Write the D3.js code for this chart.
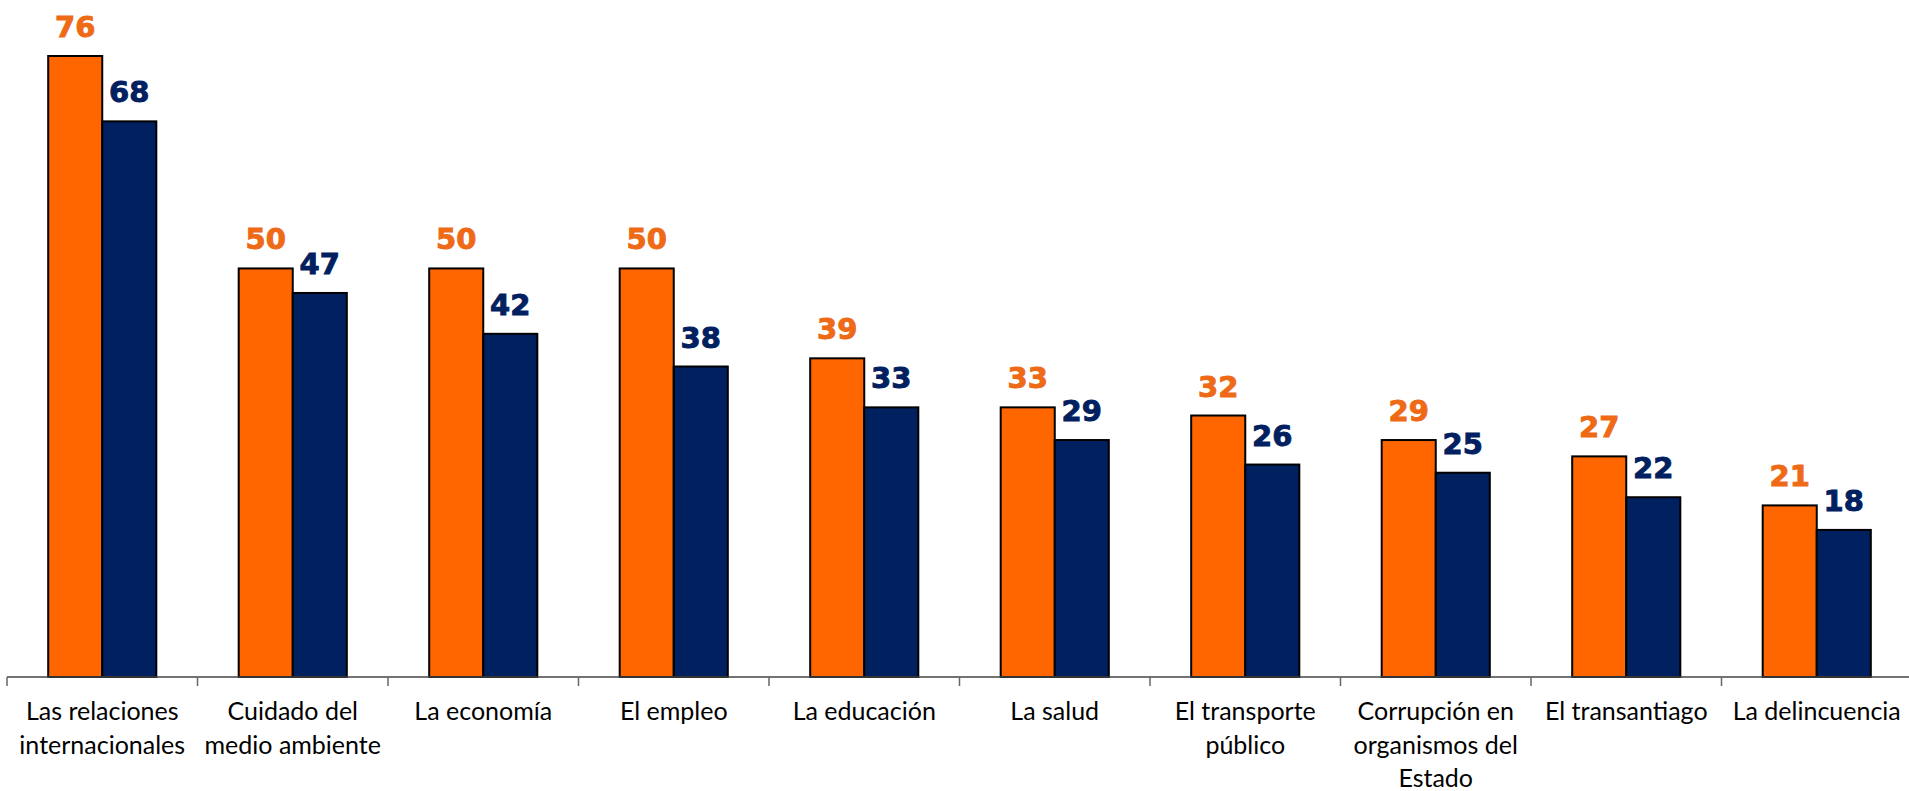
<!DOCTYPE html>
<html>
<head>
<meta charset="utf-8">
<script src="https://cdn.jsdelivr.net/npm/d3@7"></script>
<style>
  body { margin: 0; background: #fff; }
  .valLabel { font-family: "DejaVu Sans", Verdana, sans-serif; font-weight: bold; font-size: 29px; stroke-width: 0.9px; }
  .catLabel { font-family: Lato, "Open Sans", sans-serif; font-size: 25px; fill: #000; }
</style>
</head>
<body>
<svg id="chart" width="1909" height="791"></svg>
<script>
var categories = [
    ["Las relaciones", "internacionales"],
    ["Cuidado del", "medio ambiente"],
    ["La economía"],
    ["El empleo"],
    ["La educación"],
    ["La salud"],
    ["El transporte", "público"],
    ["Corrupción en", "organismos del", "Estado"],
    ["El transantiago"],
    ["La delincuencia"]
];
var seriesA = [76, 50, 50, 50, 39, 33, 32, 29, 27, 21];
var seriesB = [68, 47, 42, 38, 33, 29, 26, 25, 22, 18];

var svg = d3.select("#chart");
var colors = ["#FF6600", "#002060"];
var labelColors = ["#EE6A16", "#002060"];

var x = d3.scaleBand()
    .domain(d3.range(categories.length))
    .range([7, 1912])
    .paddingInner(0).paddingOuter(0);

var inner = d3.scaleBand()
    .domain([0, 1])
    .range([0, x.bandwidth()])
    .paddingInner(0)
    .paddingOuter(0.762);

var y = d3.scaleLinear().domain([0, 76]).range([677, 56]);

var rows = categories.map(function (c, i) {
    return [seriesA[i], seriesB[i]];
});

var groups = svg.append("g").selectAll("g")
    .data(rows)
    .join("g")
    .attr("transform", function (d, i) { return "translate(" + x(i) + ",0)"; });

groups.selectAll("rect")
    .data(function (d) { return d; })
    .join("rect")
    .attr("x", function (d, j) { return inner(j); })
    .attr("y", function (d) { return y(d); })
    .attr("width", inner.bandwidth())
    .attr("height", function (d) { return y(0) - y(d); })
    .attr("fill", function (d, j) { return colors[j]; })
    .attr("stroke", "#000")
    .attr("stroke-width", 2);

groups.selectAll("text")
    .data(function (d) { return d; })
    .join("text")
    .attr("class", "valLabel")
    .attr("x", function (d, j) { return inner(j) + inner.bandwidth() / 2; })
    .attr("y", function (d) { return y(d) - 19; })
    .attr("text-anchor", "middle")
    .attr("fill", function (d, j) { return labelColors[j]; })
    .attr("stroke", function (d, j) { return labelColors[j]; })
    .text(function (d) { return d; });

// axis line with ticks at band edges
svg.append("line")
    .attr("x1", 7).attr("x2", 1909)
    .attr("y1", y(0)).attr("y2", y(0))
    .attr("stroke", "#444").attr("stroke-width", 1.5);

svg.append("g").selectAll("line")
    .data(d3.range(categories.length))
    .join("line")
    .attr("x1", function (i) { return x(i); })
    .attr("x2", function (i) { return x(i); })
    .attr("y1", y(0)).attr("y2", y(0) + 9)
    .attr("stroke", "#666").attr("stroke-width", 1.5);

var catText = svg.append("g").selectAll("text")
    .data(categories)
    .join("text")
    .attr("class", "catLabel")
    .attr("text-anchor", "middle")
    .attr("x", function (d, i) { return x(i) + x.bandwidth() / 2; })
    .attr("y", 720);

catText.selectAll("tspan")
    .data(function (d) { return d; })
    .join("tspan")
    .attr("x", function () { return d3.select(this.parentNode).attr("x"); })
    .attr("dy", function (d, k) { return k === 0 ? 0 : 33.5; })
    .text(function (d) { return d; });
</script>
</body>
</html>
